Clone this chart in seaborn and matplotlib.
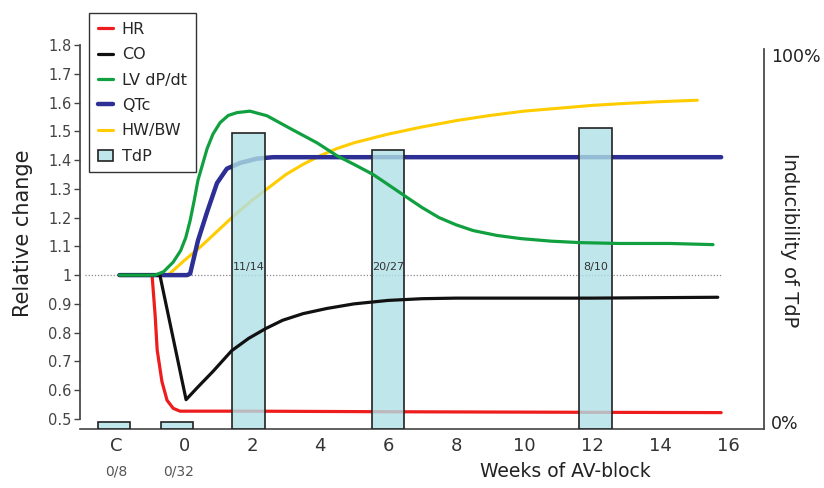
import seaborn as sns
import matplotlib.pyplot as plt

# x positions are weeks of AV-block, the control group "C" sits at -2
tick_pos = [-2, 0, 2, 4, 6, 8, 10, 12, 14, 16]
tick_labels = ['C', '0', '2', '4', '6', '8', '10', '12', '14', '16']

hr_weeks = [-1.9, -0.94, -0.85, -0.79, -0.65, -0.5, -0.32, -0.12, 0.3, 2, 6, 12, 15.8]
hr_vals = [1.0, 1.0, 0.86, 0.74, 0.63, 0.565, 0.537, 0.527, 0.527, 0.527, 0.525, 0.523, 0.522]

co_weeks = [-1.9, -0.71, 0.06, 0.4, 0.85, 1.4, 1.9, 2.4, 2.9, 3.5, 4.2, 5.0, 6.0, 7.0, 8.0, 12.0, 15.7]
co_vals = [1.0, 1.0, 0.567, 0.61, 0.665, 0.737, 0.78, 0.814, 0.843, 0.866, 0.884, 0.9, 0.912, 0.918, 0.92, 0.92, 0.923]

lv_weeks = [-1.9, -0.85, -0.6, -0.32, -0.1, 0.05, 0.18, 0.3, 0.41, 0.68, 0.85, 1.06, 1.3, 1.56, 1.94,
            2.44, 3.12, 3.91, 4.5, 5.0, 5.56, 6.0, 6.56, 7.0, 7.5, 8.0, 8.5, 9.2, 9.9, 10.8, 11.65,
            12.8, 14.3, 15.56]
lv_vals = [1.0, 1.0, 1.012, 1.045, 1.085, 1.13, 1.19, 1.26, 1.33, 1.44, 1.49, 1.53, 1.555, 1.565, 1.57,
           1.554, 1.51, 1.46, 1.415, 1.385, 1.35, 1.315, 1.27, 1.235, 1.2, 1.175, 1.155, 1.138, 1.127,
           1.118, 1.113, 1.11, 1.11, 1.106]

qtc_weeks = [-1.9, 0.09, 0.18, 0.41, 0.68, 0.97, 1.26, 1.65, 2.15, 2.62, 15.8]
qtc_vals = [1.0, 1.0, 1.005, 1.12, 1.22, 1.32, 1.37, 1.39, 1.405, 1.41, 1.41]

hw_weeks = [-1.9, -0.47, 0, 0.5, 1.0, 1.5, 2.0, 2.5, 3.0, 3.5, 4.0, 4.5, 5, 6, 7, 8, 9, 10, 11, 12, 13, 14, 15.1]
hw_vals = [1.0, 1.0, 1.05, 1.1, 1.155, 1.21, 1.26, 1.305, 1.35, 1.385, 1.415, 1.44, 1.46, 1.49,
           1.515, 1.537, 1.555, 1.57, 1.58, 1.59, 1.597, 1.603, 1.608]

# TdP inducibility (% of animals)
tdp_weeks = [-2.05, -0.2, 1.9, 6.0, 12.1]
tdp_pct = [0, 0, 78.6, 74.1, 80]
tdp_text = ['0/8', '0/32', '11/14', '20/27', '8/10']

sns.set_theme(style='white')
plt.rcParams['font.family'] = ['DejaVu Sans']

fig = plt.figure(figsize=(8.24, 4.88), dpi=100)
ax = fig.add_axes([80 / 824, 1 - 429 / 488, 684 / 824, 384 / 488])
ax2 = ax.twinx()

# lines that sit under the bars
sns.lineplot(x=hr_weeks, y=hr_vals, ax=ax, color='#ee1c1c', lw=2.3, label='HR')
sns.lineplot(x=hw_weeks, y=hw_vals, ax=ax, color='#ffcc00', lw=2.2, label='HW/BW')
sns.lineplot(x=qtc_weeks, y=qtc_vals, ax=ax, color='#2e2f94', lw=3.2, label='QTc')
ax.hlines(1.0, -2.9, 15.8, colors='#888888', linestyles=(0, (1, 1.5)), lw=0.9, zorder=0)

# bars (right axis), floor sits on the x axis
floor = -1.9
bars = ax2.bar(tdp_weeks, [p - floor for p in tdp_pct], bottom=floor, width=0.95,
               facecolor=(0.69, 0.88, 0.90, 0.8), edgecolor='#222222', lw=1.2, label='TdP')

# lines drawn over the bars
sns.lineplot(x=co_weeks, y=co_vals, ax=ax2, color='#111111', lw=2.3, label='CO', transform=ax.transData)
sns.lineplot(x=lv_weeks, y=lv_vals, ax=ax2, color='#10a040', lw=2.3, label='LV dP/dt', transform=ax.transData)

for wk, txt in zip(tdp_weeks[2:], tdp_text[2:]):
    ax2.text(wk, 1.028, txt, transform=ax.transData, ha='center', va='center', fontsize=8, color='#333333')
for wk, txt in zip(tdp_weeks[:2], tdp_text[:2]):
    ax.text(wk + 0.05, -0.11, txt, transform=ax.get_xaxis_transform(), ha='center', va='center',
            fontsize=10, color='#555555')

ax.set_xlim(-3.06, 17.06)
ax.set_ylim(0.465, 1.8)
ax2.set_ylim(floor, 102.7)

ax.set_xticks(tick_pos)
ax.set_xticklabels(tick_labels)
ax.set_yticks([0.5 + 0.1 * i for i in range(14)])
ax.set_yticklabels(['%g' % round(0.5 + 0.1 * i, 1) for i in range(14)])
ax.tick_params(axis='x', length=0, labelsize=13, pad=6, labelcolor='#333333')
ax.tick_params(axis='y', left=True, direction='out', length=4, width=1, color='#444444',
               labelsize=10.5, labelcolor='#444444', pad=2)
ax2.set_yticks([0, 100])
ax2.set_yticklabels(['0%', '100%'])
ax2.tick_params(axis='y', right=True, length=0, labelsize=12.5, pad=5, labelcolor='#222222')

for s in ['top', 'right']:
    ax.spines[s].set_visible(False)
for s in ['top', 'left', 'bottom']:
    ax2.spines[s].set_visible(False)
ax.spines['left'].set_bounds(0.5, 1.8)
ax.spines['left'].set_color('#444444')
ax.spines['bottom'].set_color('#444444')
ax.spines['bottom'].set_linewidth(1.2)
ax2.spines['right'].set_bounds(floor, 101.5)
ax2.spines['right'].set_color('#444444')

ax.set_xlabel('Weeks of AV-block', fontsize=13.5, color='#222222')
ax.xaxis.set_label_coords(0.709, -0.085)
ax.set_ylabel('Relative change', fontsize=15, color='#222222')
ax.yaxis.set_label_coords(-0.068, 0.51)
ax2.set_ylabel('')
fig.text(790 / 824, 1 - 240 / 488, 'Inducibility of TdP', rotation=270, ha='center', va='center',
         fontsize=14, color='#222222')

h1, l1 = ax.get_legend_handles_labels()
h2, l2 = ax2.get_legend_handles_labels()
handles = dict(zip(l1 + l2, h1 + h2))
order = ['HR', 'CO', 'LV dP/dt', 'QTc', 'HW/BW', 'TdP']
for a in (ax, ax2):
    if a.get_legend():
        a.get_legend().remove()
leg = ax2.legend([handles[k] for k in order], order, loc='upper left',
                 bbox_to_anchor=(89 / 824, 1 - 13 / 488), bbox_transform=fig.transFigure,
                 borderaxespad=0, fontsize=11.5, handlelength=0.95, handletextpad=0.55,
                 labelspacing=0.65, borderpad=0.55, fancybox=False, framealpha=1, edgecolor='#333333')
leg.get_frame().set_linewidth(1)

fig.savefig('out.png', dpi=100)
